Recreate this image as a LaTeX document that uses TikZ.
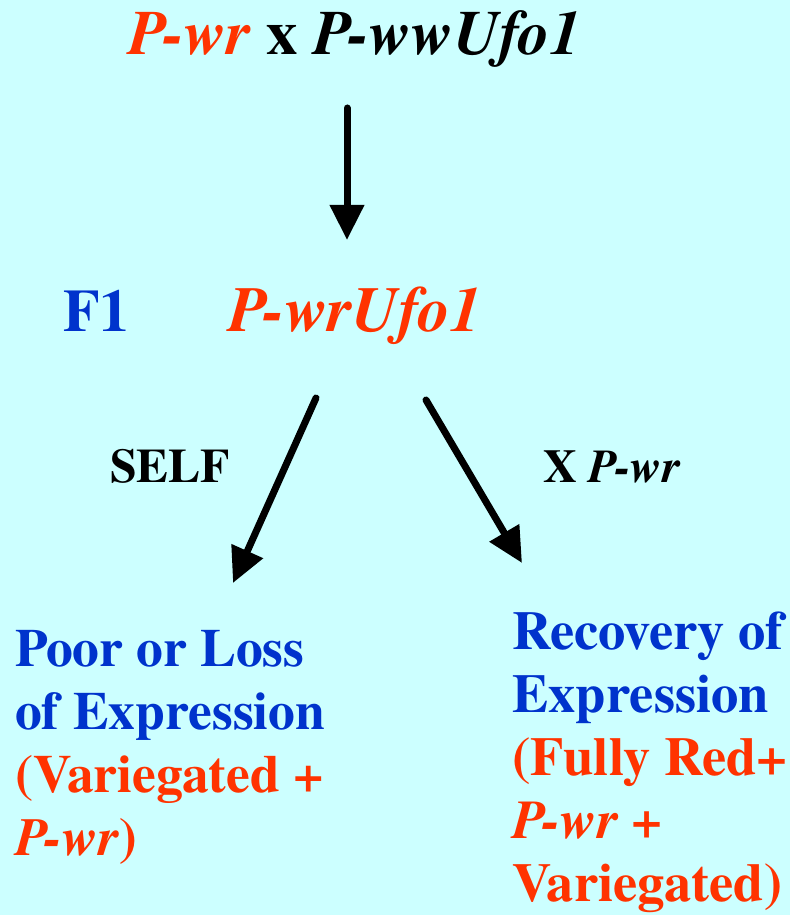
\documentclass[tikz,border=0pt]{standalone}
\usepackage{fontspec}
\setmainfont{texgyretermes}[
  Extension=.otf,
  UprightFont=*-regular,
  BoldFont=*-bold,
  ItalicFont=*-italic,
  BoldItalicFont=*-bolditalic]
\usepackage{xcolor}
\usetikzlibrary{arrows.meta}
\definecolor{sky}{HTML}{CCFFFF}
\definecolor{flame}{HTML}{FF3300}
\definecolor{royal}{HTML}{0033CC}
\definecolor{ink}{HTML}{000000}
\tikzset{
  arrowline/.style={ink,line width=7pt,line cap=round,-{Triangle[length=35pt,width=33pt]}},
  label/.style={inner sep=0pt,anchor=base west}
}

\begin{document}
\begin{tikzpicture}[x=1pt,y=1pt]

  % background
  \fill[sky] (0,0) rectangle (790,915);
  \useasboundingbox (0,0) rectangle (790,915);

  % ---------------------------------------------------------------- PARENTS
  \node[inner sep=0pt,anchor=base] (parents) at (355,860) {%
    \bfseries\fontsize{63}{70}\selectfont
    \textcolor{flame}{\textit{P-wr}} x \textit{P-wwUfo1}};

  % ---------------------------------------------------------------- F1
  \node[label] (f1) at (63,583) {%
    \bfseries\fontsize{60}{70}\selectfont\color{royal}F1};
  \node[label] (hybrid) at (228,583) {%
    \bfseries\itshape\fontsize{64}{70}\selectfont\color{flame}P-wrUfo1};

  % ---------------------------------------------------------------- CROSSES
  \node[label] (self) at (110,432) {%
    \bfseries\fontsize{48}{55}\selectfont SELF};
  \node[label] (back) at (543,432) {%
    \bfseries\fontsize{47}{55}\selectfont X \textit{P-wr}};

  % ---------------------------------------------------------------- OUTCOMES
  \node[label] (poor) at (15,248) {%
    \bfseries\fontsize{53.5}{63}\selectfont
    \begin{tabular}[t]{@{}l@{}}
      \color{royal}Poor or Loss\\
      \color{royal}of Expression\\
      \color{flame}(Variegated +\\
      \color{flame}\textit{P-wr})
    \end{tabular}};
  \node[label] (recovery) at (512,265) {%
    \bfseries\fontsize{54.5}{63}\selectfont
    \begin{tabular}[t]{@{}l@{}}
      \color{royal}Recovery of\\
      \color{royal}Expression\\
      \color{flame}(Fully Red+\\
      \color{flame}\textit{P-wr} +\\
      \color{flame}Variegated)
    \end{tabular}};

  % ---------------------------------------------------------------- ARROWS
  \coordinate (a1) at (347,807);
  \coordinate (a2) at (347,675);
  \coordinate (b1) at (316,517);
  \coordinate (b2) at (233,332);
  \coordinate (c1) at (426,515);
  \coordinate (c2) at (522,352);
  \draw[arrowline] (a1) -- (a2);
  \draw[arrowline] (b1) -- (b2);
  \draw[arrowline] (c1) -- (c2);

\end{tikzpicture}
\end{document}
